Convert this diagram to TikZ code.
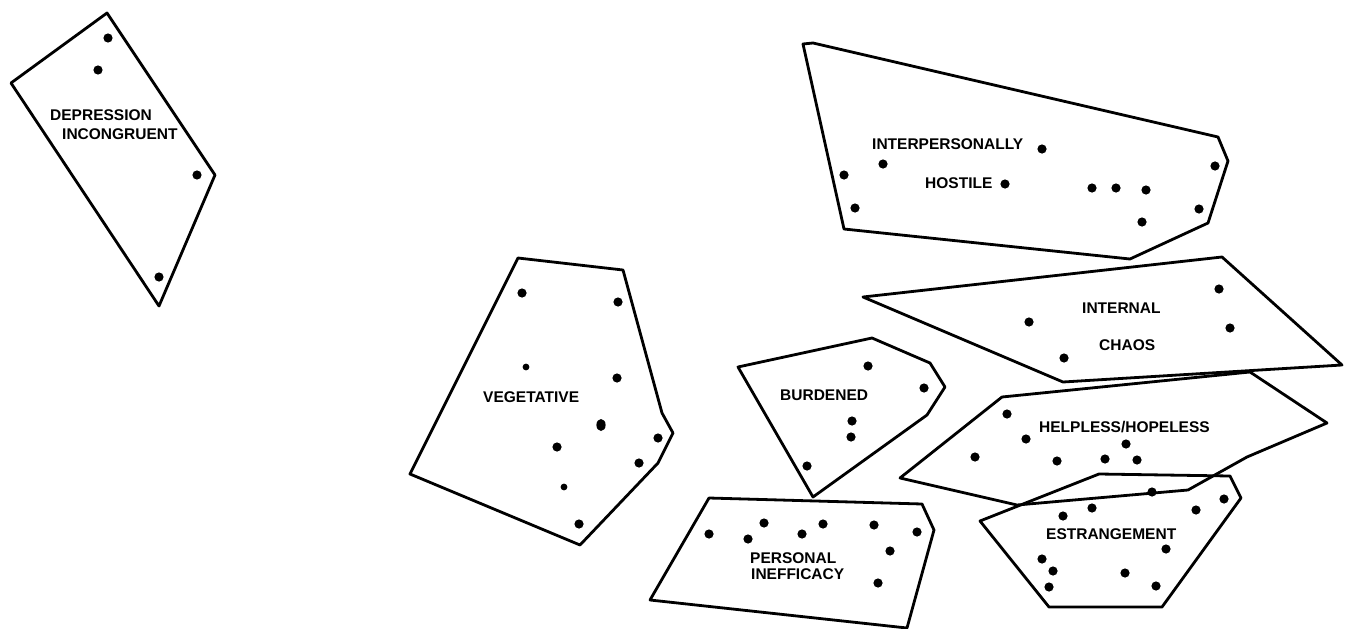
\documentclass[tikz,border=0pt]{standalone}
\usepackage{fontspec}
\setmainfont{Liberation Sans}
\usepackage{tikz}
\usetikzlibrary{positioning}
\tikzset{
  hull/.style={draw=black, line width=2.8pt, line join=round},
  pt/.style={fill=black},
  lbl/.style={font=\bfseries\fontsize{15.5}{18}\selectfont, inner sep=0pt, anchor=base west}
}
\begin{document}
\begin{tikzpicture}[x=1pt, y=-1pt]
  \useasboundingbox (0,0) rectangle (1347,629);

  % hulls
  \draw[hull] (107,13) -- (215,175) -- (159,306) -- (11,83) -- cycle;
  \draw[hull] (803,44) -- (813,43) -- (1218,137) -- (1228,161) -- (1208,223) -- (1130,259) -- (844,229) -- cycle;
  \draw[hull] (518,258) -- (623,270) -- (662,413) -- (673,433) -- (658,463) -- (580,545) -- (410,474) -- cycle;
  \draw[hull] (738,367) -- (872,338) -- (930,363) -- (945,387) -- (927,415) -- (813,497) -- cycle;
  \draw[hull] (863,297) -- (1222,257) -- (1342,365) -- (1063,382) -- cycle;
  \draw[hull] (900,478) -- (1002,397) -- (1250,372) -- (1327,423) -- (1247,457) -- (1188,490) -- (1017,505) -- cycle;
  \draw[hull] (980,521) -- (1099,474) -- (1230,476) -- (1241,498) -- (1162,607) -- (1049,607) -- cycle;
  \draw[hull] (709,498) -- (922,504) -- (934,530) -- (907,628) -- (650,600) -- cycle;

  % items
  \foreach \p in {(108,38),(98,70),(197,175),(159,277)}
    \fill[pt] \p circle (4.6);
  \foreach \p in {(844,175),(883,164),(855,208),(1042,149),(1005,184),(1092,188),
                  (1116,188),(1146,190),(1142,222),(1215,166),(1199,209)}
    \fill[pt] \p circle (4.6);
  \foreach \p in {(522,293),(618,302),(617,378),(557,447),(658,438),(639,463),(579,524)}
    \fill[pt] \p circle (4.6);
  \foreach \p in {(526,367),(564,487)}
    \fill[pt] \p circle (3.4);
  \fill[pt] (601,425) ellipse (4.6 and 6);
  \foreach \p in {(868,366),(924,388),(852,421),(851,437),(807,466)}
    \fill[pt] \p circle (4.6);
  \foreach \p in {(1219,289),(1029,322),(1230,328),(1064,358)}
    \fill[pt] \p circle (4.6);
  \foreach \p in {(1007,414),(1026,439),(975,457),(1057,461),(1105,459),(1126,444),(1137,460)}
    \fill[pt] \p circle (4.6);
  \foreach \p in {(1152,492),(1224,499),(1092,508),(1063,516),(1196,510),(1166,549),
                  (1042,559),(1053,571),(1049,587),(1125,573),(1156,586)}
    \fill[pt] \p circle (4.6);
  \foreach \p in {(709,534),(748,539),(764,523),(802,534),(823,524),(874,525),
                  (917,532),(890,551),(878,583)}
    \fill[pt] \p circle (4.6);

  % labels
  \node[lbl] (dep) at (50,120) {DEPRESSION};
  \node[lbl] (incong) at (62,139) {INCONGRUENT};
  \node[lbl] (interp) at (872,149) {INTERPERSONALLY};
  \node[lbl] (hostile) at (925,188) {HOSTILE};
  \node[lbl] (veget) at (483,402) {VEGETATIVE};
  \node[lbl] (burden) at (780,400) {BURDENED};
  \node[lbl] (internal) at (1082,313) {INTERNAL};
  \node[lbl] (chaos) at (1099,350) {CHAOS};
  \node[lbl] (helpless) at (1039,432) {HELPLESS/HOPELESS};
  \node[lbl] (estrange) at (1046,539) {ESTRANGEMENT};
  \node[lbl] (personal) at (750,563) {PERSONAL};
  \node[lbl] (ineff) at (751,579) {INEFFICACY};
\end{tikzpicture}
\end{document}
